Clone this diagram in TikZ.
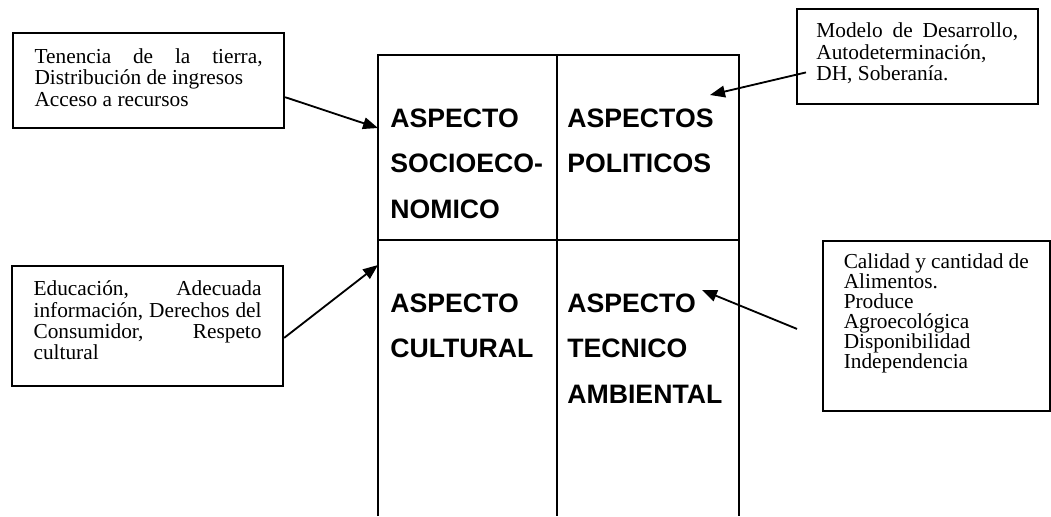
\documentclass[tikz,border=0pt]{standalone}
\usepackage{fontspec}
\setmainfont{Liberation Serif}
\newfontfamily\arialfont{Liberation Sans}
\usepackage{tikz}
\usetikzlibrary{positioning,calc,arrows.meta}

\begin{document}
\begin{tikzpicture}[x=0.6pt,y=-0.6pt,
  cuadro/.style={draw,line width=1.1pt,inner ysep=0pt,inner xsep=13pt,
    anchor=north west,align=justify,font=\fontsize{12.8}{12.8}\selectfont},
  aspecto/.style={anchor=base west,inner sep=0pt,text width=100pt,align=left,
    font=\arialfont\bfseries\fontsize{16}{27.4}\selectfont},
  flecha/.style={line width=1.1pt,-{Triangle[length=9pt,width=7pt]}}]
\useasboundingbox (0,0) rectangle (1051,516);

\coordinate (S) at (378,128);
\coordinate (P) at (710,95);
\coordinate (C) at (378,265);
\coordinate (T) at (702,290);

\draw[line width=1.2pt]
  (378,516)--(378,55)--(739,55)--(739,516)
  (557,55)--(557,516)
  (378,240)--(739,240);

\node[aspecto] (socio) at (390,127) {ASPECTO\\SOCIOECO-\\NOMICO};
\node[aspecto] (politico) at (567,127) {ASPECTOS\\POLITICOS};
\node[aspecto] (cultural) at (390,312) {ASPECTO\\CULTURAL};
\node[aspecto] (tecnico) at (567,312) {ASPECTO\\TECNICO\\AMBIENTAL};

\node[cuadro,text width=136.8pt,text height=18.4pt,text depth=38.6pt] (tenencia) at (12,32)
  {Tenencia de la tierra,\linebreak Distribución de ingresos\\ Acceso a recursos};
\node[cuadro,inner xsep=11.7pt,text width=121pt,text height=17.4pt,text depth=39.6pt] (modelo) at (796,8)
  {Modelo de Desarrollo,\linebreak Autodeterminación,\\ DH, Soberanía.};
\node[cuadro,text width=136.8pt,text height=18pt,text depth=54pt] (educacion) at (11,265)
  {Educación, Adecuada\linebreak información, Derechos del\linebreak Consumidor, Respeto\linebreak cultural};
\node[cuadro,inner xsep=12.5pt,text width=111pt,text height=16.8pt,text depth=85.2pt,
  font=\fontsize{12.8}{11.9}\selectfont] (calidad) at (822,240)
  {Calidad y cantidad de\linebreak Alimentos.\\ Produce\\ Agroecológica\\ Disponibilidad\\ Independencia};

\draw[flecha] (tenencia.-7)--(S);
\draw[flecha] ($(modelo.west)+(10,16)$)--(P);
\draw[flecha] (educacion.-5)--(C);
\draw[flecha] ($(calidad.west)+(-25,3)$)--(T);
\end{tikzpicture}
\end{document}
